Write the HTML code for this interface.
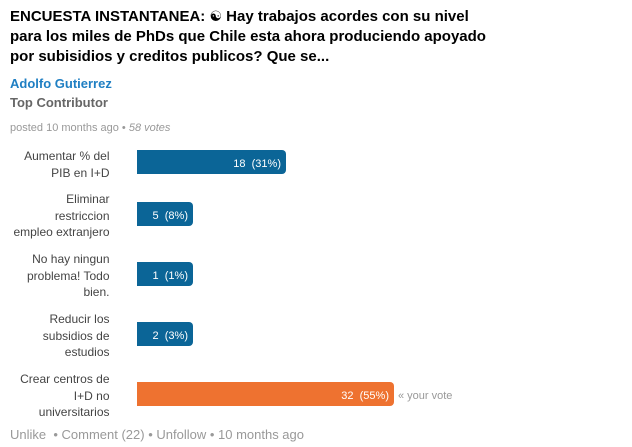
<!DOCTYPE html>
<html>
<head>
<meta charset="utf-8">
<style>
  html, body { margin:0; padding:0; background:#fff; }
  body { width:632px; height:447px; position:relative; overflow:hidden;
         font-family:"Liberation Sans", Arial, "DejaVu Sans", sans-serif; }
  .abs { position:absolute; white-space:nowrap; }
  .title { left:10px; top:6.5px; font-size:15px; line-height:20px; font-weight:bold; color:#000; }
  .yy { font-family:"DejaVu Sans", sans-serif; font-weight:normal; font-size:14px; }
  .author { left:10px; top:76px; font-size:13px; line-height:16px; font-weight:bold; color:#1f7fc3; }
  .role { left:10px; top:95px; font-size:13px; line-height:16px; font-weight:bold; color:#666; }
  .posted { left:10px; top:120.8px; font-size:11px; line-height:14px; color:#999; }
  .lbl { left:0; width:109.5px; text-align:right; font-size:12px; line-height:16.5px; color:#444; }
  .bar { position:absolute; left:137px; height:24px; background:#0b6597; border-radius:0 4px 4px 0; }
  .bar.o { background:#ee7230; }
  .bt { position:absolute; right:5px; top:8.4px; font-size:11px; line-height:13px; color:#fff; white-space:nowrap; }
  .vote { left:398px; top:389.9px; font-size:11px; line-height:13px; color:#999; }
  .foot { left:10px; top:426.5px; font-size:13px; line-height:16px; color:#999; }
</style>
</head>
<body>
  <div class="abs title">ENCUESTA INSTANTANEA: <span class="yy">☯</span> Hay trabajos acordes con su nivel<br>para los miles de PhDs que Chile esta ahora produciendo apoyado<br>por subisidios y creditos publicos? Que se...</div>
  <div class="abs author">Adolfo Gutierrez</div>
  <div class="abs role">Top Contributor</div>
  <div class="abs posted">posted 10 months ago • <i>58 votes</i></div>

  <div class="abs lbl" style="top:148px;">Aumentar % del<br>PIB en I+D</div>
  <div class="bar" style="top:150px;width:149px;"><span class="bt">18&nbsp; (31%)</span></div>

  <div class="abs lbl" style="top:191px;">Eliminar<br>restriccion<br>empleo extranjero</div>
  <div class="bar" style="top:202px;width:56px;"><span class="bt">5&nbsp; (8%)</span></div>

  <div class="abs lbl" style="top:251px;">No hay ningun<br>problema! Todo<br>bien.</div>
  <div class="bar" style="top:262px;width:56px;"><span class="bt">1&nbsp; (1%)</span></div>

  <div class="abs lbl" style="top:311px;">Reducir los<br>subsidios de<br>estudios</div>
  <div class="bar" style="top:322px;width:56px;"><span class="bt">2&nbsp; (3%)</span></div>

  <div class="abs lbl" style="top:371px;">Crear centros de<br>I+D no<br>universitarios</div>
  <div class="bar o" style="top:382px;width:257px;"><span class="bt">32&nbsp; (55%)</span></div>
  <div class="abs vote">« your vote</div>

  <div class="abs foot">Unlike &nbsp;• Comment (22) • Unfollow • 10 months ago</div>
</body>
</html>
